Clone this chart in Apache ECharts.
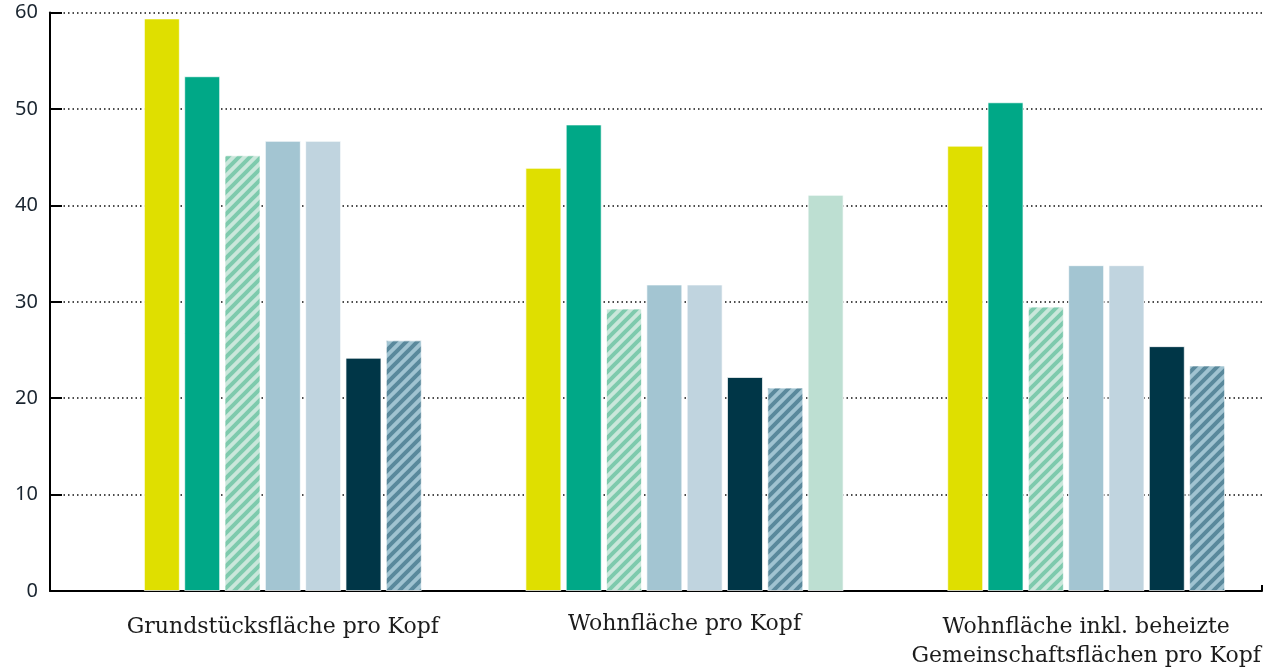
<!DOCTYPE html>
<html>
<head>
<meta charset="utf-8">
<script src="https://cdn.jsdelivr.net/npm/echarts@6/dist/echarts.min.js"></script>
<style>
  html, body { margin: 0; padding: 0; background: #fff; }
  #chart { width: 1268px; height: 668px; }
</style>
</head>
<body>
<div id="chart"></div>
<script>
// Kategorien und Werte
const categories = [
  "Grundstücksfläche pro Kopf",
  "Wohnfläche pro Kopf",
  "Wohnfläche inkl. beheizte\nGemeinschaftsflächen pro Kopf",
];
const yTicks = [0, 10, 20, 30, 40, 50, 60];
const yellow = [59.4, 43.9, 46.2];
const green = [53.4, 48.4, 50.7];
const greenHatched = [45.2, 29.3, 29.5];
const blue = [46.7, 31.8, 33.8];
const lightBlue = [46.7, 31.8, 33.8];
const navy = [24.2, 22.2, 25.4];
const blueHatched = [26.0, 21.1, 23.4];
const mint = [null, 41.1, null];

// Schraffur als Canvas-Muster
const hatch = (bg, fg) => {
  const s = 11;
  const c = document.createElement("canvas");
  c.width = s;
  c.height = s;
  const ctx = c.getContext("2d");
  ctx.fillStyle = bg;
  ctx.fillRect(0, 0, s, s);
  ctx.strokeStyle = fg;
  ctx.lineWidth = 4;
  ctx.beginPath();
  ctx.moveTo(-2, s + 2); ctx.lineTo(s + 2, -2);
  ctx.moveTo(-s / 2 - 2, s / 2 + 2); ctx.lineTo(s / 2 + 2, -s / 2 - 2);
  ctx.moveTo(s / 2 - 2, s * 1.5 + 2); ctx.lineTo(s * 1.5 + 2, s / 2 - 2);
  ctx.stroke();
  return { image: c, repeat: "repeat" };
};

const seriesDefs = [
  { data: yellow, color: "#dfdf00" },
  { data: green, color: "#00a887" },
  { data: greenHatched, color: hatch("#cae7db", "#7ecaad") },
  { data: blue, color: "#a3c5d2" },
  { data: lightBlue, color: "#c0d4df" },
  { data: navy, color: "#003647" },
  { data: blueHatched, color: hatch("#a0c3d1", "#5a899c") },
  { data: mint, color: "#bddfd2" },
];

const makeBar = (def, axis, keep) => ({
  type: "bar",
  xAxisIndex: axis,
  yAxisIndex: 1,
  barWidth: 36,
  barGap: "12%",
  itemStyle: {
    color: def.color,
    borderColor: "rgba(255,255,255,0.7)",
    borderWidth: 1,
  },
  emphasis: { disabled: true },
  data: def.data.map((v, i) => (keep(i) ? v : null)),
});

const series = [];
// Gruppen 1 und 3: sieben Balken, mittig
seriesDefs.slice(0, 7).forEach((d) => series.push(makeBar(d, 1, (i) => i !== 1)));
// Gruppe 2: acht Balken, mittig
seriesDefs.forEach((d) => series.push(makeBar(d, 2, (i) => i === 1)));

const chart = echarts.init(document.getElementById("chart"));
const option = {
  animation: false,
  grid: [
    { left: 50, right: 6, top: 12.6, bottom: 77, outerBoundsMode: "none" },
    { left: 82, width: 1205, top: 12.6, bottom: 77, outerBoundsMode: "none" },
  ],
  xAxis: [
    {
      gridIndex: 0,
      type: "category",
      data: ["", ""],
      boundaryGap: false,
      axisLine: { lineStyle: { color: "#000", width: 2 } },
      axisTick: { inside: true, length: 6, lineStyle: { color: "#000", width: 2 } },
      axisLabel: { show: false },
    },
    {
      gridIndex: 1,
      type: "category",
      data: categories.map((c, i) =>
        i === 1 ? { value: c, textStyle: { lineHeight: 22 } } : c
      ),
      axisLine: { show: false },
      axisTick: { show: false },
      axisLabel: {
        interval: 0,
        margin: 22,
        fontFamily: "DejaVu Serif",
        fontSize: 22,
        lineHeight: 29,
        color: "#1b1b1b",
      },
    },
    { gridIndex: 1, type: "category", data: categories, show: false },
  ],
  yAxis: [
    {
      gridIndex: 0,
      type: "value",
      min: yTicks[0],
      max: yTicks[yTicks.length - 1],
      interval: 10,
      axisLine: { show: true, lineStyle: { color: "#000", width: 2 } },
      axisTick: { show: true, inside: true, length: 12, lineStyle: { color: "#000", width: 2 } },
      axisLabel: {
        margin: 12,
        padding: [6, 0, 0, 0],
        fontFamily: "Noto Sans",
        fontSize: 20,
        color: "#1a2530",
      },
      splitLine: {
        lineStyle: { color: "#111", width: 1.5, type: [1.5, 3] },
      },
    },
    { gridIndex: 1, type: "value", min: 0, max: 60, show: false },
  ],
  series: series,
};
option && chart.setOption(option);
</script>
</body>
</html>
